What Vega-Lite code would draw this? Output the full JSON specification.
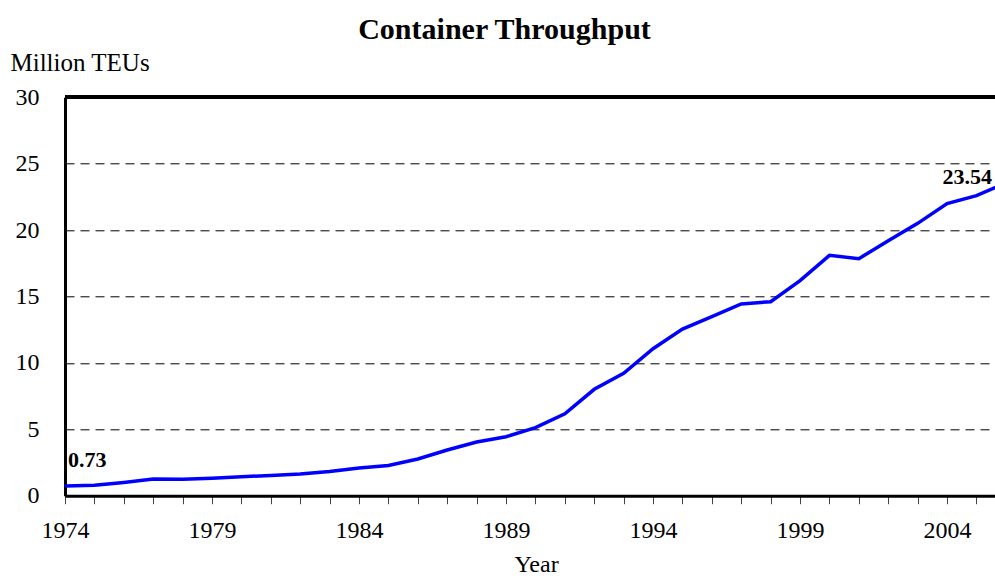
{
  "$schema": "https://vega.github.io/schema/vega-lite/v6.json",
  "width": 930,
  "height": 398.4,
  "autosize": {"type": "none"},
  "padding": {"left": 65, "top": 97.3, "right": 0, "bottom": 82.3},
  "background": "white",
  "config": {"view": {"stroke": null}, "font": "Liberation Serif"},
  "title": {
    "text": "Container Throughput",
    "fontSize": 30,
    "fontWeight": "bold",
    "font": "Liberation Serif",
    "color": "black",
    "anchor": "middle",
    "frame": "group",
    "dx": -25.5,
    "dy": 5,
    "offset": 10
  },
  "data": {
    "values": [
      {"year": 1974, "value": 0.73},
      {"year": 1975, "value": 0.78},
      {"year": 1976, "value": 1.0},
      {"year": 1977, "value": 1.26},
      {"year": 1978, "value": 1.23},
      {"year": 1979, "value": 1.31},
      {"year": 1980, "value": 1.43},
      {"year": 1981, "value": 1.53},
      {"year": 1982, "value": 1.63},
      {"year": 1983, "value": 1.83},
      {"year": 1984, "value": 2.08},
      {"year": 1985, "value": 2.28},
      {"year": 1986, "value": 2.76},
      {"year": 1987, "value": 3.44},
      {"year": 1988, "value": 4.04},
      {"year": 1989, "value": 4.44},
      {"year": 1990, "value": 5.12},
      {"year": 1991, "value": 6.17},
      {"year": 1992, "value": 8.01},
      {"year": 1993, "value": 9.22},
      {"year": 1994, "value": 11.07},
      {"year": 1995, "value": 12.55},
      {"year": 1996, "value": 13.48},
      {"year": 1997, "value": 14.44},
      {"year": 1998, "value": 14.61},
      {"year": 1999, "value": 16.19},
      {"year": 2000, "value": 18.1},
      {"year": 2001, "value": 17.85},
      {"year": 2002, "value": 19.2},
      {"year": 2003, "value": 20.51},
      {"year": 2004, "value": 22.0},
      {"year": 2005, "value": 22.6},
      {"year": 2006, "value": 23.54}
    ]
  },
  "encoding": {
    "x": {
      "field": "year",
      "type": "quantitative",
      "scale": {"domain": [1974, 2005.63], "nice": false, "zero": false},
      "axis": {
        "values": [1974,1975,1976,1977,1978,1979,1980,1981,1982,1983,1984,1985,1986,1987,1988,1989,1990,1991,1992,1993,1994,1995,1996,1997,1998,1999,2000,2001,2002,2003,2004,2005],
        "labelExpr": "(datum.value - 1974) % 5 == 0 ? datum.value : ''",
        "format": "d",
        "labelFlush": false,
        "labelOverlap": false,
        "labelFontSize": 24,
        "labelColor": "black",
        "labelFont": "Liberation Serif",
        "labelPadding": 15,
        "tickSize": 8,
        "tickColor": "#444444",
        "tickWidth": 1,
        "domainColor": "black",
        "domainWidth": 3,
        "grid": false,
        "title": "Year",
        "titleFontSize": 24,
        "titleFontWeight": "normal",
        "titleFont": "Liberation Serif",
        "titleColor": "black",
        "titleX": 471,
        "titleY": 76,
        "titleBaseline": "alphabetic",
        "titleAlign": "center"
      }
    },
    "y": {
      "field": "value",
      "type": "quantitative",
      "scale": {"domain": [0, 30], "nice": false},
      "axis": {
        "values": [0, 5, 10, 15, 20, 25, 30],
        "ticks": false,
        "tickSize": 0,
        "labelPadding": 26,
        "labelFontSize": 24,
        "labelColor": "black",
        "labelFont": "Liberation Serif",
        "domainColor": "black",
        "domainWidth": 3,
        "grid": true,
        "gridColor": "black",
        "gridDash": [9, 6],
        "gridWidth": 1,
        "title": "Million TEUs",
        "titleAngle": 0,
        "titleAlign": "left",
        "titleBaseline": "alphabetic",
        "titleX": -55,
        "titleY": -27,
        "titleFontSize": 25,
        "titleFontWeight": "normal",
        "titleFont": "Liberation Serif",
        "titleColor": "black"
      }
    }
  },
  "layer": [
    {
      "mark": {"type": "line", "color": "#0000FF", "strokeWidth": 3.5, "clip": true}
    },
    {
      "mark": {"type": "rule", "color": "black", "strokeWidth": 3},
      "encoding": {"x": null, "y": {"datum": 30}}
    },
    {
      "transform": [{"filter": "datum.year == 1974"}],
      "mark": {"type": "text", "align": "left", "baseline": "alphabetic", "dx": 3, "dy": -19, "fontSize": 22, "fontWeight": "bold", "font": "Liberation Serif", "color": "black"},
      "encoding": {"text": {"field": "value", "type": "quantitative", "format": ".2f"}}
    },
    {
      "transform": [{"filter": "datum.year == 2006"}],
      "mark": {"type": "text", "align": "right", "baseline": "alphabetic", "dx": -14, "dy": 1, "fontSize": 22, "fontWeight": "bold", "font": "Liberation Serif", "color": "black"},
      "encoding": {"text": {"field": "value", "type": "quantitative", "format": ".2f"}}
    }
  ]
}
